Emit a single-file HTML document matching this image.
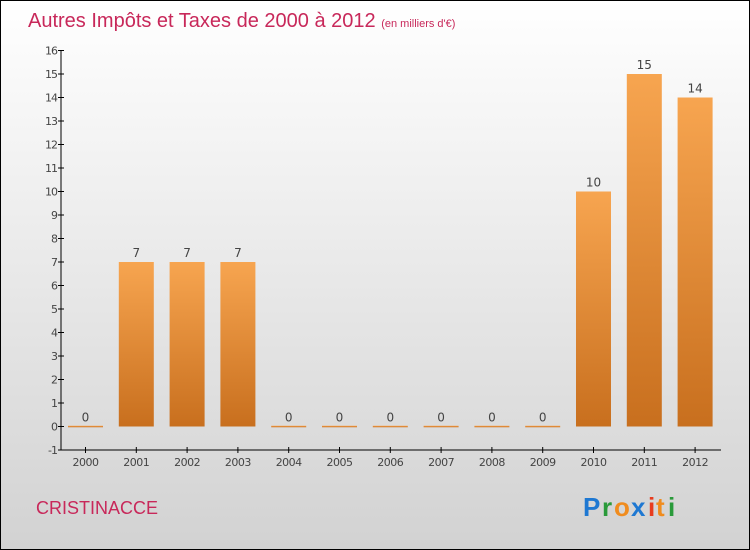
<!DOCTYPE html>
<html><head><meta charset="utf-8"><style>
body{margin:0;width:750px;height:550px;overflow:hidden}
svg{display:block;font-family:"DejaVu Sans","Liberation Sans",sans-serif}
</style></head><body>
<svg width="750" height="550">
<defs>
<linearGradient id="bg" x1="0" y1="0" x2="0" y2="1"><stop offset="0" stop-color="#ffffff"/><stop offset="1" stop-color="#d2d2d2"/></linearGradient>
<linearGradient id="bar" x1="0" y1="0" x2="0" y2="1"><stop offset="0" stop-color="#f7a550"/><stop offset="1" stop-color="#c86f1e"/></linearGradient>
</defs>
<rect x="0.5" y="0.5" width="749" height="549" fill="url(#bg)" stroke="#000"/>
<text x="28" y="27" font-size="20" fill="#c8285a" style="font-family:'Liberation Sans',sans-serif">Autres Impôts et Taxes de 2000 à 2012 <tspan font-size="11">(en milliers d'€)</tspan></text>
<g id="plot"></g>
<text x="36" y="514" font-size="18" fill="#c8285a" style="font-family:'Liberation Sans',sans-serif">CRISTINACCE</text>
<g font-size="26" font-weight="bold" style="font-family:'Liberation Sans',sans-serif">
<text x="583" y="516" fill="#1e78d2">P</text><text x="602" y="516" fill="#2a9a3a">r</text><text x="614" y="516" fill="#f08c1e">o</text><text x="631" y="516" fill="#1e78d2">x</text><text x="648" y="516" fill="#e83c1e">i</text><text x="656" y="516" fill="#f08c1e">t</text><text x="668" y="516" fill="#2a9a3a">i</text>
</g>
</svg>
<script>
const years=["2000","2001","2002","2003","2004","2005","2006","2007","2008","2009","2010","2011","2012"];
const values=[0,7,7,7,0,0,0,0,0,0,10,15,14];
const yTicks=[-1,0,1,2,3,4,5,6,7,8,9,10,11,12,13,14,15,16];
const NS="http://www.w3.org/2000/svg";
const g=document.getElementById('plot');
const y=v=>426.5-v*23.5;
const x=i=>85.5+i*50.8;
function mk(t,a,txt){const e=document.createElementNS(NS,t);for(const k in a)e.setAttribute(k,a[k]);if(txt!==undefined)e.textContent=txt;g.appendChild(e);return e;}
let e=mk('line',{x1:61,y1:y(16),x2:61,y2:y(-1),stroke:'#000'});


e=mk('line',{x1:61,y1:y(-1),x2:721,y2:y(-1),stroke:'#000'});


yTicks.forEach(t=>{
 const l=mk('line',{x1:58,y1:y(t),x2:64,y2:y(t),stroke:'#000'});
 
 
 const tx=mk('text',{x:57,y:y(t)+4,'font-size':11,fill:'#444','text-anchor':'end','letter-spacing':'-1'},t);
 
 
});
years.forEach((yr,i)=>{
 const cx=x(i),v=values[i];
 const l=mk('line',{x1:cx,y1:y(-1)-3,x2:cx,y2:y(-1)+3,stroke:'#000'});
 
 
 const tx=mk('text',{x:cx,y:466,'font-size':11,fill:'#444','text-anchor':'middle','letter-spacing':'-0.5'},yr);
 
 
 const h=Math.max(Math.abs(y(v)-y(0)),1.5);
 const b=mk('rect',{x:cx-17.5,y:v>0?y(v):y(0)-0.75,width:35,height:h,fill:'url(#bar)'});
 
 
 const vl=mk('text',{x:cx,y:y(v)-5,'font-size':12,fill:'#444','text-anchor':'middle'},v);
 
 
});
</script>
</body></html>
